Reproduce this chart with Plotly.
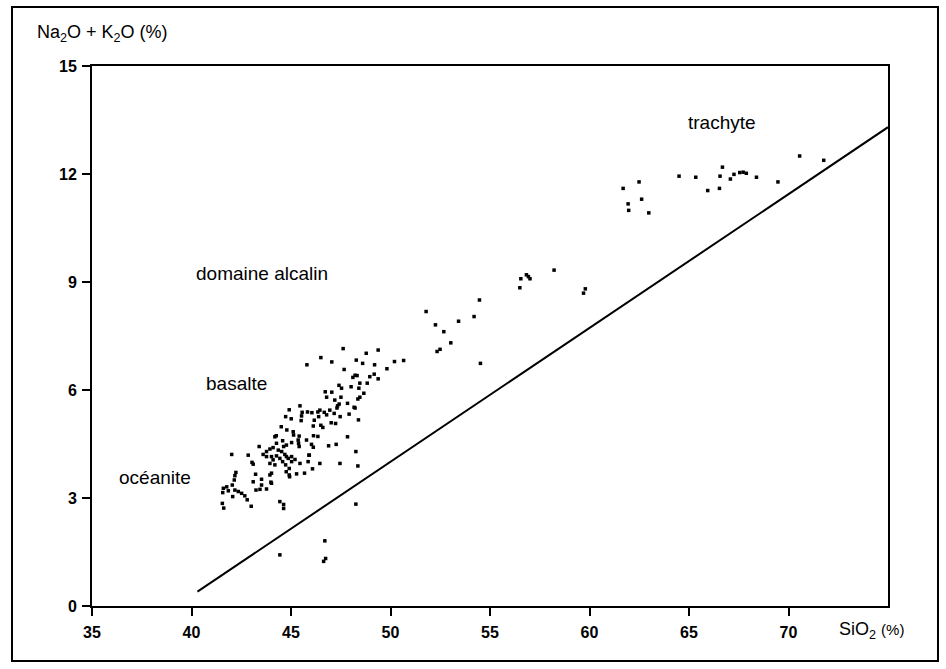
import plotly.graph_objects as go

# ---- data ----
sio2 = [
    # oceanite cluster
    41.57, 41.60, 41.77, 41.85, 42.05, 42.15, 42.18, 42.23, 42.18, 42.35, 42.52, 42.68, 42.07,
    42.02, 42.85, 43.00, 41.55, 41.62, 42.80,
    # 43-46 dense cluster
    43.22, 43.10, 43.52, 43.52, 43.24, 43.77, 43.94, 44.02, 44.02, 44.76, 44.93, 45.28, 45.68,
    43.04, 43.10, 43.40, 43.60, 43.77, 43.94, 44.10, 44.36, 44.53, 44.69, 44.86, 45.03, 45.20,
    43.77, 44.02, 44.10, 44.27, 44.44, 44.58, 44.73, 44.91, 43.94, 44.19, 44.77, 45.03, 45.45,
    45.92, 46.45, 47.46, 43.99, 43.44, 44.91, 45.90, 45.86, 48.36, 46.08,
    # low outliers
    44.44, 44.63, 44.63, 48.26, 44.44, 46.70, 46.74, 46.64,
    # middle band
    44.26, 44.58, 45.03, 44.63, 44.51, 44.79, 45.13, 45.41, 45.36, 45.38, 45.41, 46.13, 46.35,
    45.78, 46.03, 46.12, 46.89, 47.27, 47.84, 48.26, 45.11, 44.19, 44.27, 44.77, 44.73, 45.01,
    45.53, 45.51, 46.17, 46.50, 46.60, 47.02, 47.24, 48.39, 46.12, 44.91, 45.45, 45.56, 45.83,
    46.05, 46.35, 46.39, 46.67, 46.79, 47.17, 47.47, 47.92, 48.17, 48.22, 46.45, 46.95,
    # upper band
    47.62, 46.50, 45.80, 47.05, 48.78, 49.38, 48.28, 48.60, 49.20, 50.20, 50.66, 49.82, 47.67,
    48.11, 48.22, 48.32, 48.96, 49.18, 49.38, 48.83, 48.46, 48.02, 47.41, 47.54, 48.41, 46.72,
    47.05, 47.51, 46.79, 48.66, 48.46, 48.36, 47.20, 47.84, 47.42, 47.34, 47.31,
    # intermediate
    51.79, 52.26, 52.68, 53.42, 54.20, 54.47, 53.03, 52.49, 52.34, 54.52,
    56.55, 56.83, 56.93, 57.01, 56.50, 58.22, 59.79, 59.70,
    # trachyte
    61.69, 62.49, 61.94, 61.97, 62.62, 62.98, 64.50, 65.34, 65.94, 66.53, 66.56, 66.68, 67.08,
    67.26, 67.55, 67.72, 67.88, 68.39, 69.47, 70.56, 71.77,
]
alk = [
    3.15, 3.27, 3.31, 3.20, 3.36, 3.50, 3.62, 3.71, 3.22, 3.18, 3.13, 3.06, 3.04,
    4.21, 4.19, 2.77, 2.85, 2.72, 2.95,
    3.66, 3.45, 3.52, 3.36, 3.22, 3.25, 3.64, 3.69, 3.41, 3.73, 3.59, 3.67, 3.69,
    3.99, 3.94, 4.43, 4.21, 4.29, 4.36, 4.40, 4.33, 4.29, 4.21, 4.10, 4.01, 4.07,
    4.15, 4.15, 4.06, 4.17, 4.10, 4.01, 3.92, 3.82, 3.96, 3.92, 4.15, 4.15, 3.96,
    4.19, 3.96, 3.96, 3.44, 3.24, 3.64, 4.19, 4.01, 3.89, 3.81,
    2.90, 2.82, 2.71, 2.83, 1.42, 1.81, 1.32, 1.24,
    4.73, 4.59, 4.54, 4.43, 4.98, 4.89, 4.75, 4.72, 4.61, 4.52, 4.43, 4.73, 4.71,
    4.61, 4.49, 4.41, 4.45, 4.49, 4.70, 4.29, 4.84, 4.70, 4.52, 4.47, 5.26, 5.20,
    5.28, 5.15, 5.16, 5.02, 4.96, 5.09, 5.07, 5.17, 5.00, 5.45, 5.56, 5.38, 5.39,
    5.37, 5.39, 5.26, 5.38, 5.31, 5.35, 5.26, 5.33, 5.52, 5.50, 5.44, 5.44,
    7.15, 6.90, 6.70, 6.78, 7.02, 7.11, 6.83, 6.74, 6.70, 6.79, 6.82, 6.59, 6.57,
    6.35, 6.41, 6.40, 6.37, 6.44, 6.31, 6.19, 6.19, 6.09, 6.13, 6.05, 6.05, 5.95,
    5.94, 5.80, 5.80, 5.91, 5.80, 5.75, 5.72, 5.63, 5.61, 5.56, 5.50,
    8.18, 7.81, 7.62, 7.91, 8.04, 8.50, 7.31, 7.13, 7.07, 6.74,
    9.09, 9.20, 9.15, 9.09, 8.84, 9.33, 8.81, 8.69,
    11.60, 11.78, 11.17, 10.99, 11.30, 10.92, 11.94, 11.91, 11.54, 11.60, 11.94, 12.19, 11.86,
    11.99, 12.04, 12.05, 12.02, 11.91, 11.78, 12.50, 12.38,
]

# alkaline / subalkaline dividing line
line_x = [40.3, 75.0]
line_y = [0.4, 13.3]

x_ticks = [35, 40, 45, 50, 55, 60, 65, 70]
y_ticks = [0, 3, 6, 9, 12, 15]

zone_labels = ["trachyte", "domaine alcalin", "basalte", "océanite"]
zone_x = [66.64, 43.56, 42.27, 38.16]
zone_y = [13.44, 9.25, 6.17, 3.58]

TEXT_FONT = "Liberation Sans, Arial, sans-serif"
TICK_FONT = "Liberation Sans Narrow, Arial Narrow, Liberation Sans, Arial, sans-serif"

fig = go.Figure()
fig.add_trace(go.Scatter(x=line_x, y=line_y, mode="lines",
                         line=dict(color="black", width=2), hoverinfo="skip"))
fig.add_trace(go.Scatter(x=sio2, y=alk, mode="markers",
                         marker=dict(symbol="square", size=3.5, color="black",
                                     line=dict(width=0))))

for t, xx, yy in zip(zone_labels, zone_x, zone_y):
    fig.add_annotation(x=xx, y=yy, text=t, showarrow=False,
                       font=dict(family=TEXT_FONT, size=19, color="black"))

fig.add_annotation(xref="paper", yref="paper", x=-0.072, y=1.061,
                   xanchor="left", yanchor="middle", showarrow=False,
                   text="Na<sub>2</sub>O + K<sub>2</sub>O (%)",
                   font=dict(family=TEXT_FONT, size=18, color="black"))
fig.add_annotation(xref="paper", yref="paper", x=0.936, y=-0.046,
                   xanchor="left", yanchor="middle", showarrow=False,
                   text="SiO<sub>2</sub> <span style='font-size:15px'>(%)</span>",
                   font=dict(family=TEXT_FONT, size=18, color="black"))

# outer frame
fig.add_shape(type="rect", xref="paper", yref="paper",
              x0=-0.1005, x1=1.0628, y0=-0.1019, y1=1.1093,
              line=dict(color="black", width=2), layer="above")

axis_common = dict(showgrid=False, zeroline=False, showline=True, linecolor="black",
                   linewidth=2, mirror=True, ticks="outside", ticklen=8, tickwidth=1.5,
                   tickcolor="black",
                   tickfont=dict(family=TICK_FONT, size=16, color="black", weight="bold"))
fig.update_xaxes(range=[35, 75], tickvals=x_ticks, ticktext=[str(v) for v in x_ticks],
                 ticklabelstandoff=3, **axis_common)
fig.update_yaxes(range=[0, 15], tickvals=y_ticks, ticktext=[str(v) for v in y_ticks],
                 ticklabelstandoff=2, **axis_common)

fig.update_layout(width=946, height=669, showlegend=False,
                  margin=dict(l=92, r=58, t=66, b=63),
                  plot_bgcolor="white", paper_bgcolor="white")

fig.write_html("out.html", config={"displayModeBar": False},
               post_script="document.body.style.margin='0';")
